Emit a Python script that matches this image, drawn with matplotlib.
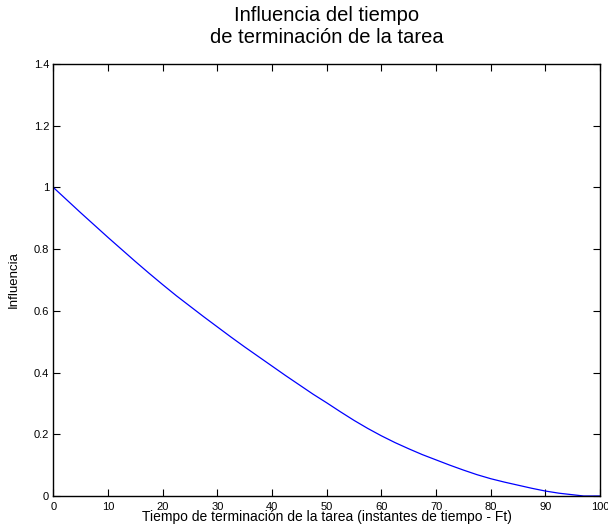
import matplotlib
matplotlib.use('Agg')
import matplotlib.pyplot as plt

plt.rcParams['font.family'] = ['Liberation Sans', 'DejaVu Sans']

# valores
tiempo = [0, 2.5, 5, 7.5, 10, 12.5, 15, 17.5, 20, 22.5, 25, 27.5, 30, 32.5, 35, 37.5, 40,
          42.5, 45, 47.5, 50, 52.5, 55, 57.5, 60, 62.5, 65, 67.5, 70, 72.5, 75, 77.5, 80,
          82.5, 85, 87.5, 90, 92.5, 95, 97, 100]
influencia = [1.0, 0.959, 0.918, 0.878, 0.838, 0.799, 0.760, 0.722, 0.685, 0.649, 0.615, 0.581,
              0.548, 0.515, 0.483, 0.452, 0.421, 0.390, 0.360, 0.330, 0.302, 0.273, 0.245,
              0.219, 0.195, 0.173, 0.153, 0.134, 0.117, 0.100, 0.084, 0.069, 0.056,
              0.045, 0.035, 0.025, 0.016, 0.009, 0.004, 0.0, 0.0]

fig = plt.figure(figsize=(6.08, 5.29), dpi=100)
ax = fig.add_axes([0.0877, 0.0624, 0.8993, 0.8166])

ax.plot(tiempo, influencia, color='#0000ff', linewidth=0.9)

ax.set_xlim(0, 100)
ax.set_ylim(0, 1.4)
ax.set_xticks(range(0, 101, 10))
ax.set_yticks([0, 0.2, 0.4, 0.6, 0.8, 1.0, 1.2, 1.4])
ax.set_yticklabels(['0', '0.2', '0.4', '0.6', '0.8', '1', '1.2', '1.4'])
ax.tick_params(direction='in', top=True, right=True, length=5, labelsize=8)
ax.tick_params(axis='x', pad=4)
ax.tick_params(axis='y', pad=3)
for s in ax.spines.values():
    s.set_linewidth(1.0)

ax.set_title('Influencia del tiempo\nde terminación de la tarea', fontsize=14.5, pad=15, linespacing=1.2)
ax.set_xlabel('Tiempo de terminación de la tarea (instantes de tiempo - Ft)', fontsize=10, labelpad=-1)
ax.set_ylabel('Influencia', fontsize=9.5, labelpad=10)

fig.savefig('out.png', dpi=100)
